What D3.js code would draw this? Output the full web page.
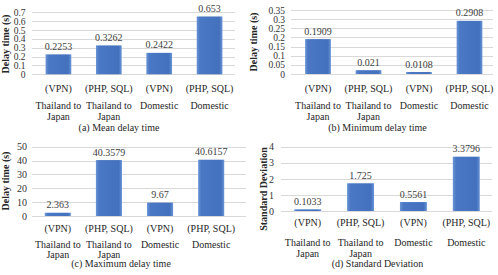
<!DOCTYPE html>
<html>
<head>
	<meta charset="utf-8">
	<script src="https://d3js.org/d3.v7.min.js"></script>
	<style>
		body { margin: 0; background: #fff; }
	</style>
</head>
<body>
	<div id="chart"></div>
	<script type="text/javascript">
		"use strict";

		// data
		var conn = ["(VPN)", "(PHP, SQL)", "(VPN)", "(PHP, SQL)"];
		var route = [["Thailand to", "Japan"], ["Thailand to", "Japan"], ["Domestic"], ["Domestic"]];
		var meanDelay = [0.2253, 0.3262, 0.2422, 0.653];
		var minDelay = [0.1909, 0.021, 0.0108, 0.2908];
		var maxDelay = [2.363, 40.3579, 9.67, 40.6157];
		var stdDev = [0.1033, 1.725, 0.5561, 3.3796];
		var meanTicks = [0, 0.1, 0.2, 0.3, 0.4, 0.5, 0.6, 0.7];
		var minTicks = [0, 0.05, 0.1, 0.15, 0.2, 0.25, 0.3, 0.35];
		var maxTicks = [0, 10, 20, 30, 40, 50];
		var stdTicks = [0, 1, 2, 3, 4];

		var width = 498, height = 275;
		var serif = "'Liberation Serif', 'Times New Roman', Times, Tinos, 'Noto Serif', 'DejaVu Serif', FreeSerif, serif";

		var svg = d3.select("#chart")
			.append("svg")
			.attr("width", width)
			.attr("height", height);

		// bar gradient, like the office chart style
		var grad = svg.append("defs").append("linearGradient")
			.attr("id", "barGrad")
			.attr("x1", 0).attr("x2", 1).attr("y1", 0).attr("y2", 0);
		grad.append("stop").attr("offset", "0%").attr("stop-color", "#6a95d6");
		grad.append("stop").attr("offset", "12%").attr("stop-color", "#4b78c4");
		grad.append("stop").attr("offset", "88%").attr("stop-color", "#4471bd");
		grad.append("stop").attr("offset", "100%").attr("stop-color", "#6a95d6");

		var panels = [
			{values: meanDelay, ticks: meanTicks, max: 0.7, x: [33, 235], y: [74.3, 12.3], grid: [32, 235],
				tickX: 25.5, tickFont: 9.5, title: "Delay time (s)", titlePos: [5, 44], rows: [88.3, 105, 116.5, 127.7],
				caption: "(a) Mean delay time", capX: 119},
			{values: minDelay, ticks: minTicks, max: 0.35, x: [292.5, 495], y: [74, 10], grid: [291, 493],
				tickX: 285, tickFont: 9.5, title: "Delay time (s)", titlePos: [253, 42], rows: [88.3, 105, 116.5, 127.7],
				caption: "(b) Minimum delay time", capX: 377.5},
			{values: maxDelay, ticks: maxTicks, max: 50, x: [32, 237], y: [216, 146.7], grid: [32, 246],
				tickX: 27, tickFont: 10, title: "Delay time (s)", titlePos: [5, 181], rows: [228.6, 244.3, 254.1, 263.9],
				caption: "(c) Maximum delay time", capX: 121},
			{values: stdDev, ticks: stdTicks, max: 4, x: [281, 493], y: [211, 146.7], grid: [281, 492],
				tickX: 274, tickFont: 10, title: "Standard Deviation", titlePos: [263, 189], rows: [222.8, 242.5, 253.5, 263.5],
				caption: "(d) Standard Deviation", capX: 377.5}
		];

		panels.forEach(function(p) {
			var g = svg.append("g");

			var x = d3.scaleBand()
				.domain(d3.range(p.values.length))
				.range(p.x)
				.paddingInner(0.49)
				.paddingOuter(0.25);

			var y = d3.scaleLinear()
				.domain([0, p.max])
				.range(p.y);

			// gridlines
			g.selectAll(".grid")
				.data(p.ticks)
				.enter().append("line")
				.attr("x1", p.grid[0])
				.attr("x2", p.grid[1])
				.attr("y1", function(d) { return Math.round(y(d)) + 0.5; })
				.attr("y2", function(d) { return Math.round(y(d)) + 0.5; })
				.attr("stroke", "#d9d9d9")
				.attr("stroke-width", 1);

			// y axis labels only, no domain line
			var axis = g.append("g")
				.attr("transform", "translate(" + p.tickX + ",0)")
				.call(d3.axisLeft(y)
					.tickValues(p.ticks)
					.tickSize(0)
					.tickPadding(0)
					.tickFormat(function(d) { return String(+d.toFixed(2)); }));
			axis.select(".domain").remove();
			axis.attr("font-family", null).attr("font-size", null);
			axis.selectAll("text")
				.style("font-family", serif)
				.style("font-size", p.tickFont + "px")
				.attr("fill", "#333");

			// bars
			g.selectAll(".bar")
				.data(p.values)
				.enter().append("rect")
				.attr("x", function(d, i) { return x(i); })
				.attr("y", function(d) { return y(d); })
				.attr("width", x.bandwidth())
				.attr("height", function(d) { return y(0) - y(d); })
				.attr("fill", "url(#barGrad)");

			// value labels
			g.selectAll(".val")
				.data(p.values)
				.enter().append("text")
				.attr("x", function(d, i) { return x(i) + x.bandwidth() / 2; })
				.attr("y", function(d) { return y(d) - 4.5; })
				.attr("text-anchor", "middle")
				.style("font-family", serif)
				.style("font-size", "10px")
				.attr("fill", "#404040")
				.text(function(d) { return String(d); });

			// category labels: connection type, then route on one or two lines
			g.selectAll(".conn")
				.data(conn)
				.enter().append("text")
				.attr("x", function(d, i) { return x(i) + x.bandwidth() / 2; })
				.attr("y", p.rows[0])
				.attr("dy", "0.35em")
				.attr("text-anchor", "middle")
				.style("font-family", serif)
				.style("font-size", "10px")
				.attr("fill", "#262626")
				.text(function(d) { return d; });

			route.forEach(function(lines, i) {
				lines.forEach(function(line, k) {
					g.append("text")
						.attr("x", x(i) + x.bandwidth() / 2)
						.attr("y", p.rows[1 + k])
						.attr("dy", "0.35em")
						.attr("text-anchor", "middle")
						.style("font-family", serif)
						.style("font-size", "10px")
						.attr("fill", "#262626")
						.text(line);
				});
			});

			// caption under the panel
			g.append("text")
				.attr("x", p.capX)
				.attr("y", p.rows[3])
				.attr("dy", "0.35em")
				.attr("text-anchor", "middle")
				.style("font-family", serif)
				.style("font-size", "10px")
				.attr("fill", "#262626")
				.text(p.caption);

			// y axis title
			g.append("text")
				.attr("transform", "translate(" + p.titlePos[0] + "," + p.titlePos[1] + ") rotate(-90)")
				.attr("dy", "0.35em")
				.attr("text-anchor", "middle")
				.style("font-family", serif)
				.style("font-size", "10px")
				.style("font-weight", "bold")
				.attr("fill", "#262626")
				.text(p.title);
		});
	</script>
</body>
</html>
